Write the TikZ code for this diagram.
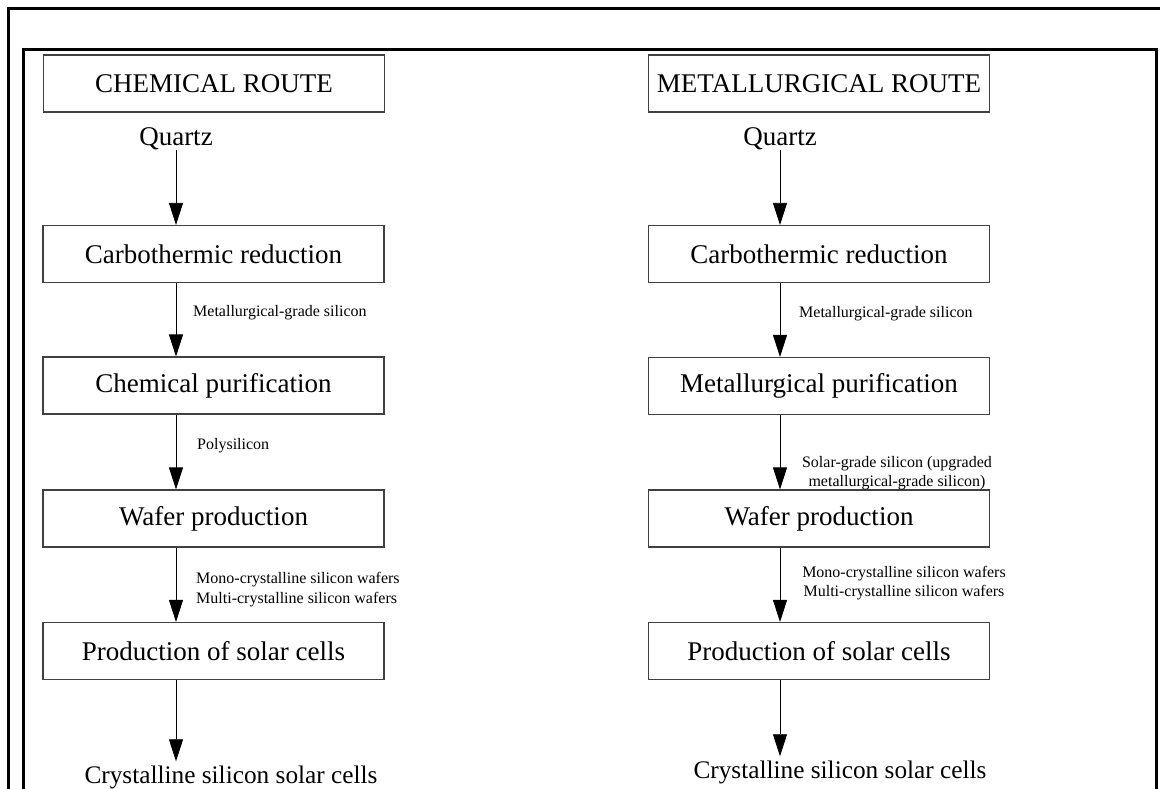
\documentclass[tikz,border=0pt]{standalone}
\usepackage{fontspec}
\setmainfont{Liberation Serif}
\usetikzlibrary{arrows.meta}
\begin{document}
\begin{tikzpicture}[x=1pt,y=-1pt,
  box/.style={draw=black!75, line width=1.1pt, minimum width=341pt, minimum height=57pt, inner sep=0pt, font=\fontsize{27}{31}\selectfont},
  big/.style={inner sep=0pt, font=\fontsize{27}{31}\selectfont},
  bigb/.style={inner sep=0pt, font=\fontsize{25.3}{30}\selectfont},
  lbl/.style={inner sep=0pt, font=\fontsize{16}{20}\selectfont, anchor=west, align=left},
  clbl/.style={inner sep=0pt, font=\fontsize{16}{19.5}\selectfont, align=center},
  arr/.style={line width=0.8pt, -{Triangle[width=14pt,length=22pt]}},
  frame/.style={line width=3pt}]
\useasboundingbox (0,0) rectangle (1160,789);
\clip (0,0) rectangle (1160,789);
\draw[frame] (1170,9) -- (8,9) -- (8,800);
\draw[frame] (23,800) -- (23,50) -- (1156,50) -- (1156,800);

% left column
\node[box] (r1) at (214,83.5) {CHEMICAL ROUTE};
\node[big] (q1) at (176,139) {Quartz};
\node[box] (c1) at (213.5,254) {Carbothermic reduction};
\node[box] (p1) at (213.5,385.5) {Chemical purification};
\node[box] (w1) at (213.5,518.5) {Wafer production};
\node[box] (s1) at (213.5,651) {Production of solar cells};
\node[bigb] (o1) at (231,777) {Crystalline silicon solar cells};
\node[lbl] (m1) at (193,313) {Metallurgical-grade silicon};
\node[lbl] (y1) at (197,446) {Polysilicon};
\node[lbl] (k1) at (196,590) {Mono-crystalline silicon wafers\\Multi-crystalline silicon wafers};

\draw[arr] (q1.south) -- (q1.south |- c1.north);
\draw[arr] (c1.south -| q1) -- (p1.north -| q1);
\draw[arr] (p1.south -| q1) -- (w1.north -| q1);
\draw[arr] (w1.south -| q1) -- (s1.north -| q1);
\draw[arr] (s1.south -| q1) -- ([yshift=4pt]o1.north -| q1);

% right column
\node[box] (r2) at (819,83.5) {METALLURGICAL ROUTE};
\node[big] (q2) at (780,139) {Quartz};
\node[box] (c2) at (819,254) {Carbothermic reduction};
\node[box] (p2) at (819,386) {Metallurgical purification};
\node[box] (w2) at (819,518.5) {Wafer production};
\node[box] (s2) at (819,651) {Production of solar cells};
\node[bigb] (o2) at (840,772) {Crystalline silicon solar cells};
\node[lbl] (m2) at (799,314) {Metallurgical-grade silicon};
\node[clbl] (g2) at (897,473) {Solar-grade silicon (upgraded\\metallurgical-grade silicon)};
\node[clbl] (k2) at (904,583) {Mono-crystalline silicon wafers\\Multi-crystalline silicon wafers};

\draw[arr] (q2.south) -- (q2.south |- c2.north);
\draw[arr] (c2.south -| q2) -- (p2.north -| q2);
\draw[arr] (p2.south -| q2) -- (w2.north -| q2);
\draw[arr] (w2.south -| q2) -- (s2.north -| q2);
\draw[arr] (s2.south -| q2) -- ([yshift=4pt]o2.north -| q2);
\end{tikzpicture}
\end{document}
